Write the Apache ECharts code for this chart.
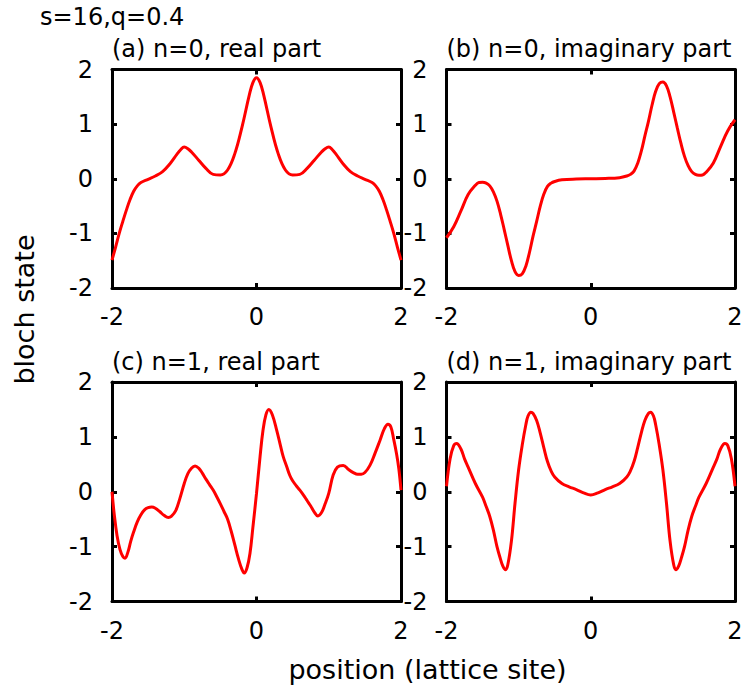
<!DOCTYPE html>
<html>
<head>
<meta charset="utf-8">
<script src="https://cdn.jsdelivr.net/npm/echarts@6/dist/echarts.min.js"></script>
<style>html,body{margin:0;padding:0;background:#fff}#c{width:747px;height:688px}</style>
</head>
<body>
<div id="c"></div>
<script>
// ---- data ----
const mainTitle = "s=16,q=0.4";
const panelTitles = ["(a) n=0, real part", "(b) n=0, imaginary part", "(c) n=1, real part", "(d) n=1, imaginary part"];
const yAxisTitle = "bloch state";
const xAxisTitle = "position (lattice site)";
const xTickValues = [-2, 0, 2];
const yTickValues = [-2, -1, 0, 1, 2];

const xA = [-2, -1.95, -1.9, -1.85, -1.8, -1.75, -1.7, -1.65, -1.6, -1.5, -1.4, -1.3, -1.2, -1.1, -1.05, -1.0, -0.95, -0.9, -0.8, -0.7, -0.6, -0.5, -0.4, -0.3, -0.2, -0.1, -0.05,
  0, 0.05, 0.1, 0.2, 0.3, 0.4, 0.5, 0.6, 0.7, 0.8, 0.9, 0.95, 1.0, 1.05, 1.1, 1.2, 1.3, 1.4, 1.5, 1.6, 1.65, 1.7, 1.75, 1.8, 1.85, 1.9, 1.95, 2];
const yA = [-1.49, -1.25, -1.0, -0.78, -0.57, -0.38, -0.23, -0.13, -0.07, -0.01, 0.05, 0.13, 0.27, 0.45, 0.53, 0.58, 0.55, 0.49, 0.34, 0.19, 0.08, 0.07, 0.16, 0.46, 0.95, 1.53, 1.76,
  1.85, 1.76, 1.53, 0.95, 0.46, 0.16, 0.07, 0.08, 0.19, 0.34, 0.49, 0.55, 0.58, 0.53, 0.45, 0.27, 0.13, 0.05, -0.01, -0.07, -0.13, -0.23, -0.38, -0.57, -0.78, -1.0, -1.25, -1.49];

const xB = [-2, -1.9, -1.8, -1.7, -1.6, -1.55, -1.5, -1.45, -1.4, -1.35, -1.3, -1.25, -1.2, -1.15, -1.1, -1.05, -1.0, -0.95, -0.9, -0.85, -0.8, -0.75, -0.7, -0.65, -0.6, -0.55, -0.5, -0.4, -0.2,
  0, 0.2, 0.4, 0.5, 0.55, 0.6, 0.65, 0.7, 0.75, 0.8, 0.85, 0.9, 0.95, 1.0, 1.05, 1.1, 1.15, 1.2, 1.25, 1.3, 1.35, 1.4, 1.45, 1.5, 1.55, 1.6, 1.7, 1.8, 1.9, 2.0];
const yB = [-1.08, -0.88, -0.59, -0.29, -0.12, -0.07, -0.065, -0.08, -0.13, -0.24, -0.41, -0.65, -0.93, -1.22, -1.5, -1.7, -1.77, -1.74, -1.6, -1.35, -1.05, -0.78, -0.5, -0.28, -0.14, -0.08, -0.05, -0.02, -0.005,
  0, 0.005, 0.02, 0.05, 0.08, 0.14, 0.28, 0.5, 0.78, 1.05, 1.35, 1.6, 1.74, 1.77, 1.7, 1.5, 1.22, 0.93, 0.65, 0.41, 0.24, 0.13, 0.08, 0.065, 0.07, 0.12, 0.29, 0.59, 0.88, 1.08];

const xC = [-2.0, -1.97, -1.93, -1.89, -1.85, -1.82, -1.78, -1.74, -1.7, -1.65, -1.6, -1.55, -1.5, -1.45, -1.4, -1.34, -1.28, -1.22, -1.18, -1.12, -1.06, -1.0, -0.95, -0.9, -0.85, -0.8, -0.75, -0.7, -0.65, -0.6, -0.55, -0.5, -0.45, -0.4, -0.35, -0.3, -0.25, -0.2, -0.17, -0.13, -0.09, -0.05,
  0.0, 0.05, 0.09, 0.13, 0.17, 0.22, 0.28, 0.33, 0.37, 0.42, 0.46, 0.5, 0.55, 0.6, 0.65, 0.7, 0.75, 0.8, 0.85, 0.9, 0.95, 1.0, 1.06, 1.12, 1.2, 1.28, 1.34, 1.4, 1.45, 1.5, 1.57, 1.64, 1.71, 1.77, 1.82, 1.86, 1.9, 1.94, 1.97, 2.0];
const yC = [0.0, -0.4, -0.8, -1.05, -1.18, -1.21, -1.1, -0.9, -0.73, -0.55, -0.42, -0.33, -0.29, -0.28, -0.3, -0.36, -0.43, -0.47, -0.45, -0.35, -0.12, 0.15, 0.33, 0.43, 0.47, 0.43, 0.34, 0.23, 0.13, 0.03, -0.09, -0.22, -0.36, -0.5, -0.72, -0.97, -1.22, -1.42, -1.48, -1.38, -1.12, -0.65,
  -0.03, 0.65, 1.12, 1.4, 1.5, 1.4, 1.12, 0.85, 0.64, 0.45, 0.3, 0.2, 0.11, 0.03, -0.06, -0.16, -0.26, -0.37, -0.44, -0.38, -0.22, -0.03, 0.3, 0.45, 0.48, 0.4, 0.35, 0.32, 0.32, 0.35, 0.48, 0.7, 0.94, 1.15, 1.23, 1.18, 0.95, 0.68, 0.42, 0.03];

const xD = [-2.0, -1.95, -1.9, -1.86, -1.8, -1.75, -1.7, -1.6, -1.5, -1.45, -1.4, -1.35, -1.3, -1.26, -1.22, -1.18, -1.15, -1.1, -1.05, -1.0, -0.95, -0.9, -0.87, -0.83, -0.8, -0.75, -0.7, -0.65, -0.6, -0.55, -0.5, -0.4, -0.3, -0.2, -0.1,
  0, 0.1, 0.2, 0.3, 0.4, 0.5, 0.55, 0.6, 0.65, 0.7, 0.75, 0.8, 0.83, 0.87, 0.9, 0.95, 1.0, 1.05, 1.1, 1.15, 1.18, 1.22, 1.26, 1.3, 1.35, 1.4, 1.45, 1.5, 1.6, 1.7, 1.75, 1.8, 1.86, 1.9, 1.95, 2.0];
const yD = [0.1, 0.6, 0.84, 0.88, 0.78, 0.6, 0.45, 0.15, -0.1, -0.27, -0.45, -0.7, -1.0, -1.19, -1.35, -1.42, -1.33, -0.9, -0.21, 0.4, 0.85, 1.22, 1.38, 1.45, 1.43, 1.3, 1.07, 0.8, 0.55, 0.38, 0.27, 0.15, 0.09, 0.04, -0.02,
  -0.06, -0.02, 0.04, 0.09, 0.15, 0.27, 0.38, 0.55, 0.8, 1.07, 1.3, 1.43, 1.45, 1.38, 1.22, 0.85, 0.4, -0.21, -0.9, -1.33, -1.42, -1.35, -1.19, -1.0, -0.7, -0.45, -0.27, -0.1, 0.15, 0.45, 0.6, 0.78, 0.88, 0.84, 0.6, 0.1];

// ---- layout / style ----
const FONT = "DejaVu Sans";
const panels = [[xA, yA], [xB, yB], [xC, yC], [xD, yD]];
const grids = [
  {left: 112, top: 69.5, width: 289, height: 218.5},
  {left: 446.5, top: 69.5, width: 288.5, height: 218.5},
  {left: 112, top: 382, width: 289, height: 219.5},
  {left: 446.5, top: 382, width: 288.5, height: 219.5}
];
const titlePos = [[112, 49], [446.5, 49], [112, 362], [446.5, 362]];

const axisLineStyle = {show: true, onZero: false, lineStyle: {color: '#000', width: 3}};
const tickStyle = {show: true, inside: true, length: 5, lineStyle: {color: '#000', width: 3}};
const labelStyle = {color: '#000', fontFamily: FONT, fontSize: 24};

const xAxes = [], yAxes = [], series = [];
grids.forEach((g, i) => {
  const xmin = xTickValues[0], xmax = xTickValues[xTickValues.length - 1];
  const ymin = yTickValues[0], ymax = yTickValues[yTickValues.length - 1];
  xAxes.push({type: 'value', gridIndex: i, position: 'bottom', min: xmin, max: xmax, interval: xTickValues[1] - xTickValues[0],
    axisLine: axisLineStyle, axisTick: tickStyle, splitLine: {show: false},
    axisLabel: Object.assign({margin: 17}, labelStyle)});
  xAxes.push({type: 'value', gridIndex: i, position: 'top', min: xmin, max: xmax, interval: xTickValues[1] - xTickValues[0],
    axisLine: axisLineStyle, axisTick: tickStyle, splitLine: {show: false}, axisLabel: {show: false}});
  yAxes.push({type: 'value', gridIndex: i, position: 'left', min: ymin, max: ymax, interval: yTickValues[1] - yTickValues[0],
    axisLine: axisLineStyle, axisTick: tickStyle, splitLine: {show: false},
    axisLabel: Object.assign({margin: 19}, labelStyle)});
  yAxes.push({type: 'value', gridIndex: i, position: 'right', min: ymin, max: ymax, interval: yTickValues[1] - yTickValues[0],
    axisLine: axisLineStyle, axisTick: tickStyle, splitLine: {show: false}, axisLabel: {show: false}});
  const [xs, ys] = panels[i];
  series.push({type: 'line', xAxisIndex: 2 * i, yAxisIndex: 2 * i, data: xs.map((x, k) => [x, ys[k]]),
    showSymbol: false, smooth: 0.4, lineStyle: {color: '#ff0000', width: 3}, itemStyle: {color: '#ff0000'}, z: 1});
});

const graphics = [
  {type: 'text', x: 40, y: 16.5, style: {text: mainTitle, font: '24px "DejaVu Sans"', fill: '#000', textAlign: 'left', textVerticalAlign: 'middle'}},
  {type: 'text', x: 24.5, y: 309.5, rotation: Math.PI / 2, style: {text: yAxisTitle, font: '27px "DejaVu Sans"', fill: '#000', textAlign: 'center', textVerticalAlign: 'middle'}},
  {type: 'text', x: 427.5, y: 669, style: {text: xAxisTitle, font: '27px "DejaVu Sans"', fill: '#000', textAlign: 'center', textVerticalAlign: 'middle'}}
];
panelTitles.forEach((t, i) => {
  graphics.push({type: 'text', x: titlePos[i][0], y: titlePos[i][1], style: {text: t, font: '24px "DejaVu Sans"', fill: '#000', textAlign: 'left', textVerticalAlign: 'middle'}});
});

const chart = echarts.init(document.getElementById('c'), null, {renderer: 'svg', width: 747, height: 688});
chart.setOption({
  animation: false,
  backgroundColor: '#fff',
  grid: grids.map(g => Object.assign({containLabel: false}, g)),
  xAxis: xAxes,
  yAxis: yAxes,
  series: series,
  graphic: graphics
});
</script>
</body>
</html>
